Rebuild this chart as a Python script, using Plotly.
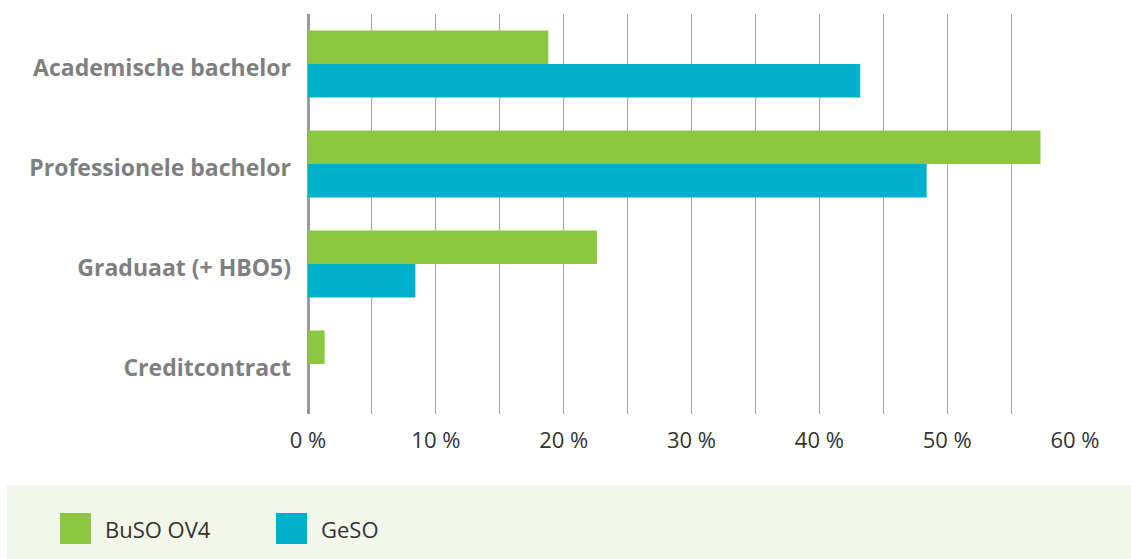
import plotly.graph_objects as go

# Opleidingstypes (top to bottom) and shares per group, in %
categories = ["Academische bachelor", "Professionele bachelor", "Graduaat (+ HBO5)", "Creditcontract"]
buso_ov4 = [18.8, 57.3, 22.6, 1.3]
geso = [43.2, 48.4, 8.4, 0.0]
series_names = ["BuSO OV4", "GeSO"]
x_ticks = [0, 10, 20, 30, 40, 50, 60]
x_tick_labels = ["0 %", "10 %", "20 %", "30 %", "40 %", "50 %", "60 %"]

GREEN = "#8dc63f"
CYAN = "#00b0ca"
FONT = "Open Sans"

W, H = 1131, 559
L, R, T, B = 308, 56, 14, 145
PW, PH = W - L - R, H - T - B


def fx(px):
    return (px - L) / PW


def fy(py):
    return (H - B - py) / PH


fig = go.Figure()
fig.add_trace(go.Bar(y=categories, x=buso_ov4, orientation="h", name=series_names[0],
                     marker=dict(color=GREEN, line=dict(width=0)), showlegend=False))
fig.add_trace(go.Bar(y=categories, x=geso, orientation="h", name=series_names[1],
                     marker=dict(color=CYAN, line=dict(width=0)), showlegend=False))

# legend band at the bottom
shapes = [dict(type="rect", xref="paper", yref="paper", x0=fx(7), x1=fx(1131), y0=fy(485), y1=fy(559),
               fillcolor="#f3f6ea", line=dict(width=0), layer="below")]
annotations = []
for name, color, sx in zip(series_names, [GREEN, CYAN], [60, 276]):
    shapes.append(dict(type="rect", xref="paper", yref="paper", x0=fx(sx), x1=fx(sx + 31),
                       y0=fy(513), y1=fy(544), fillcolor=color, line=dict(width=0)))
    annotations.append(dict(text=name, xref="paper", yref="paper", x=fx(sx + 43), y=fy(528.5),
                            xanchor="left", yanchor="middle", showarrow=False,
                            font=dict(family=FONT, size=22, color="#333333")))

fig.update_layout(
    width=W, height=H,
    margin=dict(l=L, r=R, t=T, b=B),
    paper_bgcolor="white", plot_bgcolor="white",
    barmode="group", bargap=0.33, bargroupgap=0,
    font=dict(family=FONT),
    shapes=shapes, annotations=annotations,
    showlegend=False,
)
fig.update_xaxes(
    range=[0, 60], tickvals=x_ticks, ticktext=x_tick_labels,
    tickfont=dict(family=FONT, size=22, color="#333333"),
    showgrid=True, gridcolor="#a8a8a8", gridwidth=1,
    minor=dict(tickvals=[5, 15, 25, 35, 45, 55], showgrid=True, gridcolor="#a8a8a8", gridwidth=1),
    zeroline=True, zerolinecolor="#9a9a9a", zerolinewidth=3,
    showline=False, ticks="", ticklabelstandoff=11,
)
fig.update_yaxes(
    autorange="reversed", showgrid=False, zeroline=False, showline=False,
    tickfont=dict(family=FONT, size=23, color="#7f7f7f", weight="bold"),
    ticks="", ticklabelstandoff=16, ticklabelshift=-4,
)

fig.write_html("out.html")
